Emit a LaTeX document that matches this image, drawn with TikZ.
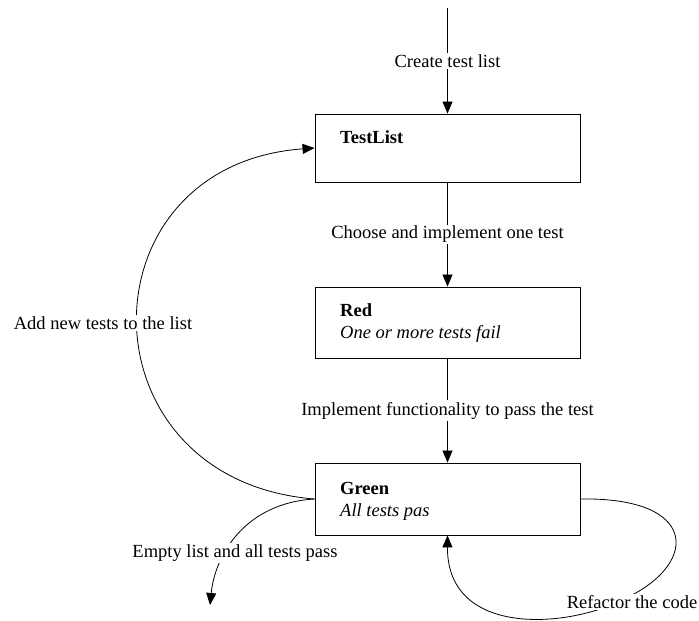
\documentclass[tikz,border=0pt]{standalone}
\usepackage{fontspec}
\setmainfont{Liberation Serif}
\usetikzlibrary{arrows.meta}
\begin{document}
\begin{tikzpicture}[x=1pt,y=-1pt,
  font=\fontsize{18.5}{22}\selectfont,
  state/.style={draw,line width=0.9pt,minimum width=265pt,inner sep=0pt},
  txt/.style={anchor=base west,inner sep=0pt},
  lbl/.style={fill=white,inner sep=1.5pt},
  conn/.style={line width=0.8pt,-{Triangle[length=12pt,width=10pt]}}]
\useasboundingbox (0,0) rectangle (699,621);

% states
\node[state,minimum height=68pt] (testlist) at (447.5,148) {};
\node[state,minimum height=71pt] (red) at (447.5,322.5) {};
\node[state,minimum height=72pt] (green) at (447.5,499) {};

\node[txt] (testlist-title) at (340,143) {\textbf{TestList}};
\node[txt] (red-title) at (340,316) {\textbf{Red}};
\node[txt] (red-note) at (340,338) {\textit{One or more tests fail}};
\node[txt] (green-title) at (340,494) {\textbf{Green}};
\node[txt] (green-note) at (340,516) {\textit{All tests pas}};

\coordinate (start) at (447.5,8);
\coordinate (done) at (210,605);

% main flow
\draw[conn] (start) -- node[lbl] (l-create) {Create test list} (testlist.north);
\draw[conn] (testlist.south) -- node[lbl] (l-choose) {Choose and implement one test} (red.north);
\draw[conn] (red.south) -- node[lbl] (l-impl) {Implement functionality to pass the test} (green.north);

% back to the list
\draw[conn] (green.west) .. controls (79,480) and (79,165) .. (testlist.west);
\node[lbl] (l-add) at (103,323) {Add new tests to the list};

% finish
\draw[conn] (green.west) .. controls (245,503) and (215,555) .. (done);
\node[lbl] (l-empty) at (235,553) {Empty list and all tests pass};

% refactor loop
\draw[conn] (green.east) .. controls (698,497) and (698,562) .. (630,596)
  .. controls (575,628) and (447,640) .. (green.south);
\node[lbl] (l-refactor) at (632,602) {Refactor the code};
\end{tikzpicture}
\end{document}
